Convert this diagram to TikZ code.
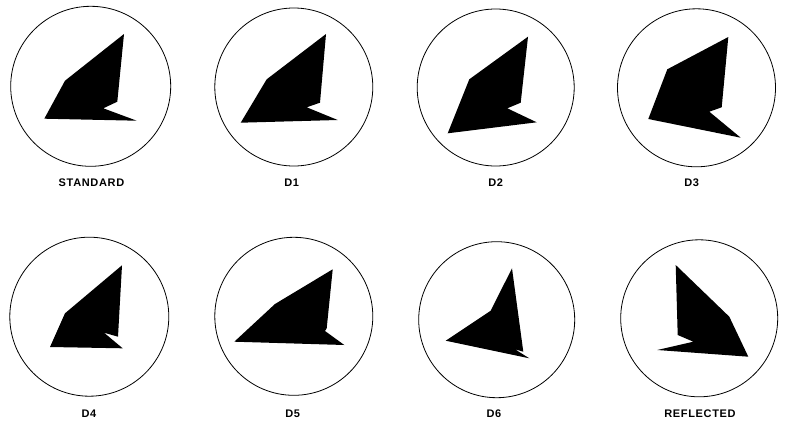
\documentclass[tikz,border=0pt]{standalone}
\usepackage{fontspec}
\setsansfont{Liberation Sans}
\begin{document}
\begin{tikzpicture}[x=1pt,y=-1pt,
    dial/.style={line width=0.8pt},
    blade/.style={fill=black},
    tag/.style={font=\sffamily\bfseries\fontsize{11}{13}\selectfont\addfontfeatures{LetterSpace=6}}]
        \useasboundingbox (0,0) rectangle (787,423);
        % top row
        \draw[dial] (90.7,86.3) circle (80);
        \fill[blade] (124,34) -- (65,80.7) -- (44.3,118.7) -- (136.7,120.7) -- (103.3,108.3) -- (117.3,101.7) -- cycle;
        \node (standard) [tag] at (91.5,182.7) {STANDARD};
        \draw[dial] (293.8,87) circle (79);
        \fill[blade] (326,34) -- (266.7,79.3) -- (240.7,122.7) -- (337.7,120) -- (306.7,107.3) -- (320,102.7) -- cycle;
        \node (d1) [tag] at (291.7,182.7) {D1};
        \draw[dial] (495.7,87.5) circle (78.5);
        \fill[blade] (528,36.7) -- (469.3,79.3) -- (447.7,133.3) -- (536.7,122.3) -- (507.3,108.3) -- (520.7,102.7) -- cycle;
        \node (d2) [tag] at (495.7,182.7) {D2};
        \draw[dial] (696.5,87.8) circle (79);
        \fill[blade] (728.3,37) -- (667.3,69.3) -- (648.3,119) -- (740.7,137.7) -- (709.3,111.7) -- (721.7,107.3) -- cycle;
        \node (d3) [tag] at (691.7,182.7) {D3};
        % bottom row
        \draw[dial] (89.3,316.7) circle (79.5);
        \fill[blade] (122,265.3) -- (65,313.3) -- (50,347) -- (122.7,348.3) -- (104,332.7) -- (118,336.7) -- cycle;
        \node (d4) [tag] at (89,414) {D4};
        \draw[dial] (293.8,316.3) circle (79);
        \fill[blade] (332.7,269.3) -- (275,304) -- (234.3,341.7) -- (344.3,345) -- (325,331) -- (326.7,328.3) -- cycle;
        \node (d5) [tag] at (292.7,414) {D5};
        \draw[dial] (496.7,319.7) circle (78);
        \fill[blade] (512,268.3) -- (490.7,310.7) -- (445.7,340.7) -- (529.3,358.3) -- (515,349.3) -- (523.3,351.7) -- cycle;
        \node (d6) [tag] at (494,414) {D6};
        \draw[dial] (699.2,318.3) circle (78.5);
        \fill[blade] (675.7,265) -- (729.3,316.7) -- (748.3,356.7) -- (657.3,350) -- (693.3,341.7) -- (677.7,335) -- cycle;
        \node (reflected) [tag] at (700,413.3) {REFLECTED};
\end{tikzpicture}
\end{document}
